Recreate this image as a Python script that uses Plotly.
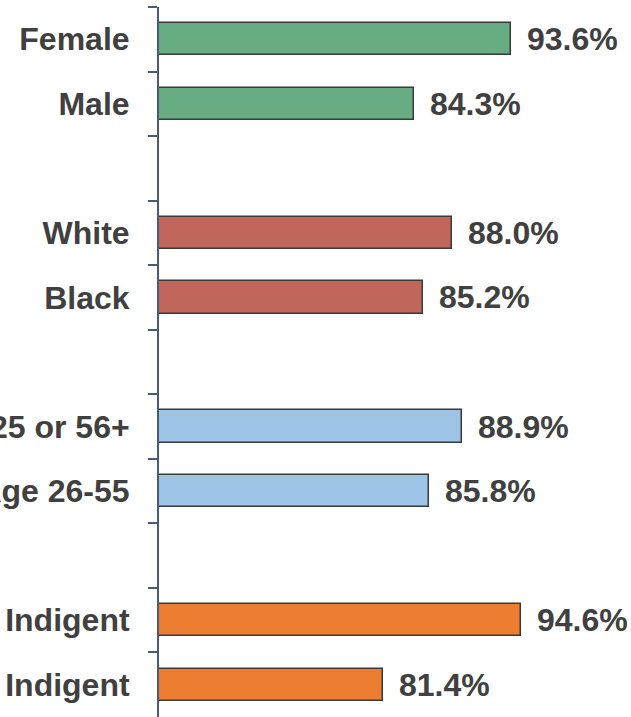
import plotly.graph_objects as go

categories = ["Female", "Male", " ", "White", "Black", "  ",
              "Age 18-25 or 56+", "Age 26-55", "   ", "Indigent", "Not Indigent"]
values = [93.6, 84.3, None, 88.0, 85.2, None, 88.9, 85.8, None, 94.6, 81.4]
group_colors = ["#67AC82", "#67AC82", None, "#C0665A", "#C0665A", None,
                "#9DC3E6", "#9DC3E6", None, "#ED7D31", "#ED7D31"]

FONT = "Liberation Sans, Arial, sans-serif"
TXT = "#404040"

ys = [c for c, v in zip(categories, values) if v is not None]
xs = [v for v in values if v is not None]
cols = [c for c, v in zip(group_colors, values) if v is not None]

fig = go.Figure(go.Bar(
    x=xs, y=ys, orientation="h", width=0.5,
    marker=dict(color=cols, line=dict(color="#3a3a3a", width=1.5)),
    hoverinfo="skip",
))

for y, x in zip(ys, xs):
    fig.add_annotation(x=x, y=y, text=f"<b>{x:.1f}%</b>", showarrow=False,
                       xanchor="left", yanchor="middle", xshift=14,
                       font=dict(family=FONT, size=32, color=TXT))

fig.update_layout(
    width=631, height=717,
    margin=dict(l=159, r=53, t=7, b=0),
    paper_bgcolor="white", plot_bgcolor="white",
    showlegend=False,
    bargap=0,
)
fig.update_xaxes(range=[60, 100], visible=False, fixedrange=True)
fig.update_yaxes(
    type="category", categoryorder="array", categoryarray=categories,
    showline=True, linecolor="#4a5b78", linewidth=2,
    ticks="outside", ticklen=9, tickwidth=2, tickcolor="#4a5b78",
    tickson="boundaries", showgrid=False, zeroline=False,
    ticklabelstandoff=21,
    tickfont=dict(family=FONT, size=32, color=TXT, weight="bold"),
    automargin=False, fixedrange=True,
    range=[len(categories) - 0.5, -0.5], autorange=False,
)

fig.write_html("out.html", config={"displayModeBar": False},
               post_script="document.body.style.margin='0';document.body.style.overflow='hidden';")
